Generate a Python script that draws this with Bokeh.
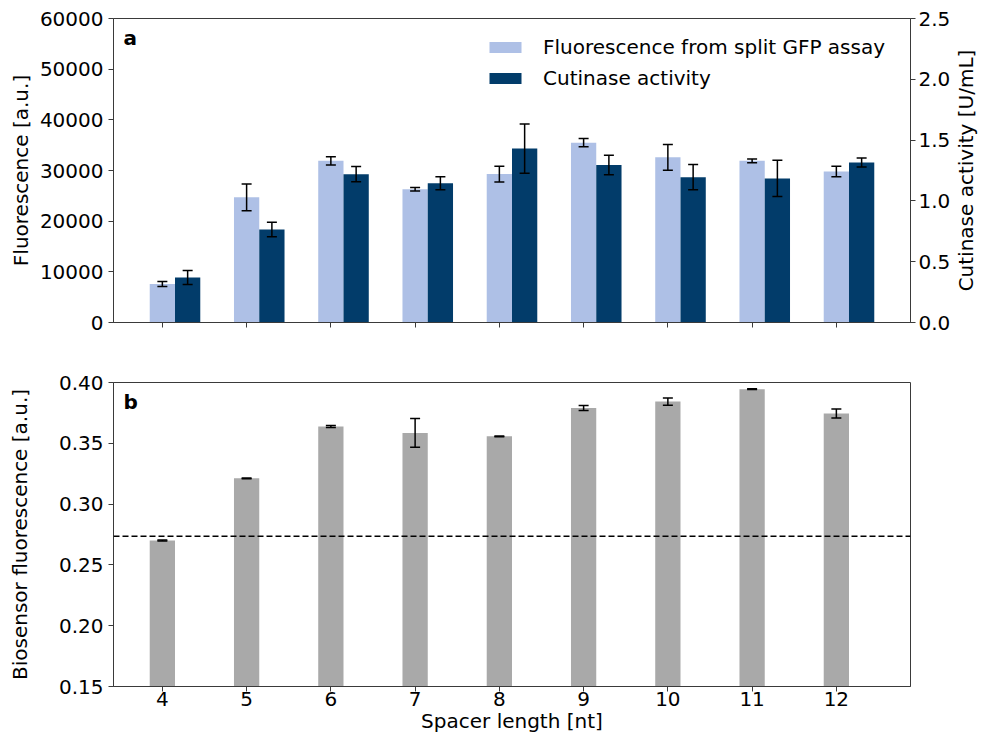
import math
from bokeh.plotting import figure
from bokeh.layouts import column, row
from bokeh.models import (ColumnDataSource, Range1d, LinearAxis, FixedTicker,
                          PrintfTickFormatter, Whisker, TeeHead, Span, Label,
                          Legend, LegendItem)
from bokeh.transform import dodge
from bokeh.embed import file_html
from bokeh.resources import INLINE

# ---------------- data ----------------
spacer = [4, 5, 6, 7, 8, 9, 10, 11, 12]
gfp_fluor = [7600, 24700, 31900, 26300, 29300, 35500, 32600, 31900, 29800]
gfp_err = [500, 2650, 800, 330, 1550, 800, 2550, 350, 1050]
cutinase = [0.37, 0.765, 1.22, 1.145, 1.43, 1.295, 1.195, 1.185, 1.315]
cutinase_err = [0.058, 0.059, 0.062, 0.053, 0.203, 0.08, 0.104, 0.149, 0.037]
biosensor = [0.2700, 0.3212, 0.3638, 0.3585, 0.3557, 0.3790, 0.3843, 0.3945, 0.3745]
biosensor_err = [0.0004, 0.0003, 0.0009, 0.0118, 0.0004, 0.0020, 0.0030, 0.0003, 0.0037]
threshold = 0.2736

fl_ticks = [0, 10000, 20000, 30000, 40000, 50000, 60000]
cut_ticks = [0.0, 0.5, 1.0, 1.5, 2.0, 2.5]
bio_ticks = [0.15, 0.20, 0.25, 0.30, 0.35, 0.40]

LIGHT = "#aec0e6"
DARK = "#023c6a"
GRAY = "#a9a9a9"
FONT = "DejaVu Sans"
FS = "20px"
AXIS_COLOR = "#3a3a3a"

src = ColumnDataSource(dict(
    x=spacer, gfp=gfp_fluor,
    gfp_lo=[v - e for v, e in zip(gfp_fluor, gfp_err)],
    gfp_hi=[v + e for v, e in zip(gfp_fluor, gfp_err)],
    cut=cutinase,
    cut_lo=[v - e for v, e in zip(cutinase, cutinase_err)],
    cut_hi=[v + e for v, e in zip(cutinase, cutinase_err)],
    bio=biosensor,
    bio_lo=[v - e for v, e in zip(biosensor, biosensor_err)],
    bio_hi=[v + e for v, e in zip(biosensor, biosensor_err)],
))

xr = Range1d(3.42, 12.88)


def style_axis(ax):
    ax.axis_line_color = AXIS_COLOR
    ax.major_tick_line_color = AXIS_COLOR
    ax.minor_tick_line_color = None
    ax.major_tick_in = 0
    ax.major_tick_out = 5
    ax.major_label_text_font = FONT
    ax.major_label_text_font_size = FS
    ax.major_label_text_color = "black"
    ax.axis_label_text_font = FONT
    ax.axis_label_text_font_size = FS
    ax.axis_label_text_font_style = "normal"
    ax.axis_label_text_color = "black"


def whisker(base, lo, hi, **kw):
    return Whisker(base=base, lower=lo, upper=hi, source=src, level="overlay",
                   line_color="black", line_width=1.5,
                   upper_head=TeeHead(size=10, line_color="black", line_width=1.5),
                   lower_head=TeeHead(size=10, line_color="black", line_width=1.5), **kw)


# ---------------- top panel ----------------
p1 = figure(frame_width=797, frame_height=304, x_range=xr, y_range=Range1d(0, 60000),
            output_backend="svg", toolbar_location=None,
            min_border_left=113, min_border_right=40, min_border_top=18, min_border_bottom=30)
p1.extra_y_ranges = {"right": Range1d(0, 2.5)}
p1.grid.visible = False
p1.outline_line_color = AXIS_COLOR

r_gfp = p1.vbar(x="x", top="gfp", bottom=0, width=0.3, source=src,
                fill_color=LIGHT, line_color=None)
r_cut = p1.vbar(x=dodge("x", 0.3, range=xr), top="cut", bottom=0, width=0.3, source=src,
                fill_color=DARK, line_color=None, y_range_name="right")

p1.add_layout(whisker("x", "gfp_lo", "gfp_hi"))
p1.add_layout(whisker(dodge("x", 0.3, range=xr), "cut_lo", "cut_hi", y_range_name="right"))

p1.xaxis.ticker = FixedTicker(ticks=spacer)
p1.yaxis.ticker = FixedTicker(ticks=fl_ticks)
p1.yaxis.formatter = PrintfTickFormatter(format="%d")
p1.yaxis.axis_label = "Fluorescence [a.u.]"
for ax in p1.xaxis + p1.yaxis:
    style_axis(ax)
p1.xaxis.major_label_text_color = None
p1.xaxis.major_label_text_font_size = "10px"
p1.xaxis.major_label_standoff = 0
p1.yaxis.axis_label_standoff = 4

rax = LinearAxis(y_range_name="right",
                 ticker=FixedTicker(ticks=cut_ticks),
                 formatter=PrintfTickFormatter(format="%.1f"))
style_axis(rax)
rax.major_label_standoff = 3
p1.add_layout(rax, "right")

leg = Legend(items=[LegendItem(label="Fluorescence from split GFP assay", renderers=[r_gfp]),
                    LegendItem(label="Cutinase activity", renderers=[r_cut])])
leg.border_line_color = None
leg.background_fill_alpha = 0
leg.label_text_font = FONT
leg.label_text_font_size = FS
leg.label_text_color = "black"
leg.glyph_width = 40
leg.glyph_height = 14
leg.label_standoff = 18
leg.spacing = 7
leg.padding = 0
leg.margin = 0
leg.location = (372, 232)
p1.add_layout(leg)

p1.add_layout(Label(x=10, y=273, x_units="screen", y_units="screen", text="a",
                    text_font=FONT, text_font_size=FS, text_font_style="bold",
                    text_color="black"))

# narrow companion panel holding the right-axis title (reads bottom-to-top)
p_lab = figure(frame_width=28, frame_height=304, x_range=Range1d(0, 1), y_range=Range1d(0, 1),
               output_backend="svg", toolbar_location=None,
               min_border_left=0, min_border_right=0, min_border_top=18, min_border_bottom=30)
p_lab.axis.visible = False
p_lab.grid.visible = False
p_lab.outline_line_color = None
p_lab.add_layout(Label(x=12, y=152, x_units="screen", y_units="screen",
                       text="Cutinase activity [U/mL]", angle=math.pi / 2,
                       text_align="center", text_baseline="middle",
                       text_font=FONT, text_font_size=FS, text_color="black"))

# ---------------- bottom panel ----------------
p2 = figure(frame_width=797, frame_height=304, x_range=xr, y_range=Range1d(0.15, 0.40),
            output_backend="svg", toolbar_location=None,
            min_border_left=113, min_border_right=66, min_border_top=30, min_border_bottom=45)
p2.grid.visible = False
p2.outline_line_color = AXIS_COLOR
p2.vbar(x="x", top="bio", bottom=0, width=0.3, source=src, fill_color=GRAY, line_color=None)
p2.add_layout(whisker("x", "bio_lo", "bio_hi"))
p2.add_layout(Span(location=threshold, dimension="width", line_color="black",
                   line_width=1.5, line_dash="6 3"))
p2.xaxis.ticker = FixedTicker(ticks=spacer)
p2.xaxis.axis_label = "Spacer length [nt]"
p2.yaxis.ticker = FixedTicker(ticks=bio_ticks)
p2.yaxis.formatter = PrintfTickFormatter(format="%.2f")
p2.yaxis.axis_label = "Biosensor fluorescence [a.u.]"
for ax in p2.xaxis + p2.yaxis:
    style_axis(ax)
p2.xaxis.major_label_standoff = 0
p2.xaxis.axis_label_standoff = 0
p2.yaxis.axis_label_standoff = 24
p2.add_layout(Label(x=10, y=273, x_units="screen", y_units="screen", text="b",
                    text_font=FONT, text_font_size=FS, text_font_style="bold",
                    text_color="black"))

layout = column(row(p1, p_lab, spacing=0), p2, spacing=0)
open("out.html", "w").write(file_html(layout, INLINE))
